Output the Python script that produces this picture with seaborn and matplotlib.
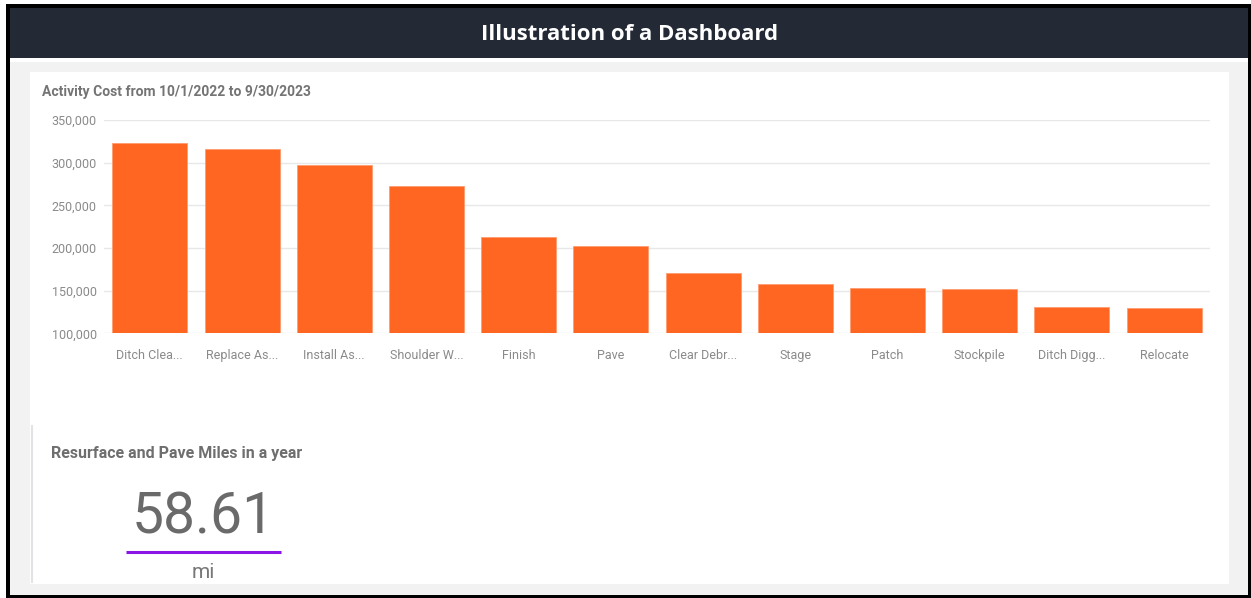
import matplotlib
matplotlib.use("Agg")
import matplotlib.pyplot as plt
from matplotlib.patches import Rectangle
from matplotlib.ticker import FuncFormatter
import seaborn as sns
import pandas as pd

# Activity cost data
activities = ["Ditch Clea...", "Replace As...", "Install As...", "Shoulder W...",
              "Finish", "Pave", "Clear Debr...", "Stage", "Patch", "Stockpile",
              "Ditch Digg...", "Relocate"]
costs = [322700, 315600, 297600, 272600, 212500, 202300,
         171000, 157400, 153100, 151900, 130800, 129700]
y_ticks = [100000, 150000, 200000, 250000, 300000, 350000]

# KPI tile
kpi_title = "Resurface and Pave Miles in a year"
kpi_value = 58.61
kpi_unit = "mi"

chart_title = "Activity Cost from 10/1/2022 to 9/30/2023"
page_title = "Illustration of a Dashboard"

sns.set_theme(style="white")
plt.rcParams["font.family"] = ["Roboto", "DejaVu Sans"]

W, H = 1251, 598
fig = plt.figure(figsize=(W / 100, H / 100), dpi=100)
fig.patch.set_facecolor("white")

# Full-figure layer in pixel units for the page chrome
bg = fig.add_axes([0, 0, 1, 1], zorder=0)
bg.set_xlim(0, W)
bg.set_ylim(H, 0)
bg.axis("off")

def rect(x0, y0, x1, y1, color, **kw):
    bg.add_patch(Rectangle((x0, y0), x1 - x0, y1 - y0, facecolor=color,
                           edgecolor="none", **kw))

rect(6, 4, W, H, "black")                 # frame
rect(10, 8, 1248, 58, "#232a35")          # header band
rect(10, 58, 1248, 62, "white")
rect(10, 62, 1248, 595, "#f2f2f2")        # page background
rect(30, 72, 1229, 584, "white")          # card
bg.plot([31.5, 31.5], [425, 583], color="#e3e3e6", lw=1.5, solid_capstyle="butt")

bg.text(629.5, 40, page_title, color="white", ha="center", va="baseline",
        fontsize=16, fontweight="bold", family=["Open Sans", "DejaVu Sans"])
bg.text(42, 96, chart_title, color="#747474", ha="left", va="baseline",
        fontsize=10, fontweight="bold")
bg.text(51, 458, kpi_title, color="#6e6e6e", ha="left", va="baseline",
        fontsize=11.5, fontweight="bold")
bg.text(203, 533, f"{kpi_value:.2f}", color="#6a6a6a", ha="center", va="baseline",
        fontsize=41, fontweight="normal")
bg.plot([125.7, 280.7], [551.8, 551.8], color="#8b14e6", lw=2.2, solid_capstyle="butt")
bg.text(203, 578, kpi_unit, color="#777777", ha="center", va="baseline",
        fontsize=15, fontweight="normal")

# Bar chart axes
x0, x1 = 103.7, 1210.3
y_top, y_bot = 120.0, 333.3
ax = fig.add_axes([x0 / W, 1 - y_bot / H, (x1 - x0) / W, (y_bot - y_top) / H], zorder=1)
ax.set_facecolor("none")

df = pd.DataFrame({"activity": activities, "cost": costs})
sns.barplot(data=df, x="activity", y="cost", color="#ff6622", saturation=1,
            width=0.813, edgecolor="#ff9c6e", linewidth=0.6, ax=ax, zorder=2)

ax.set_ylim(y_ticks[0], y_ticks[-1])
ax.set_xlim(-0.5, len(activities) - 0.5)
ax.set_yticks(y_ticks)
ax.yaxis.set_major_formatter(FuncFormatter(lambda v, _: f"{int(v):,}"))
ax.yaxis.grid(True, color="#e8e8e8", lw=1)
ax.xaxis.grid(False)
ax.set_axisbelow(True)
for s in ax.spines.values():
    s.set_visible(False)
ax.set_xlabel("")
ax.set_ylabel("")
ax.tick_params(axis="y", length=0, pad=5, labelsize=9, labelcolor="#8a8a8a")
ax.tick_params(axis="x", length=0, pad=11, labelsize=9, labelcolor="#8a8a8a")

fig.savefig("out.png", dpi=100)
